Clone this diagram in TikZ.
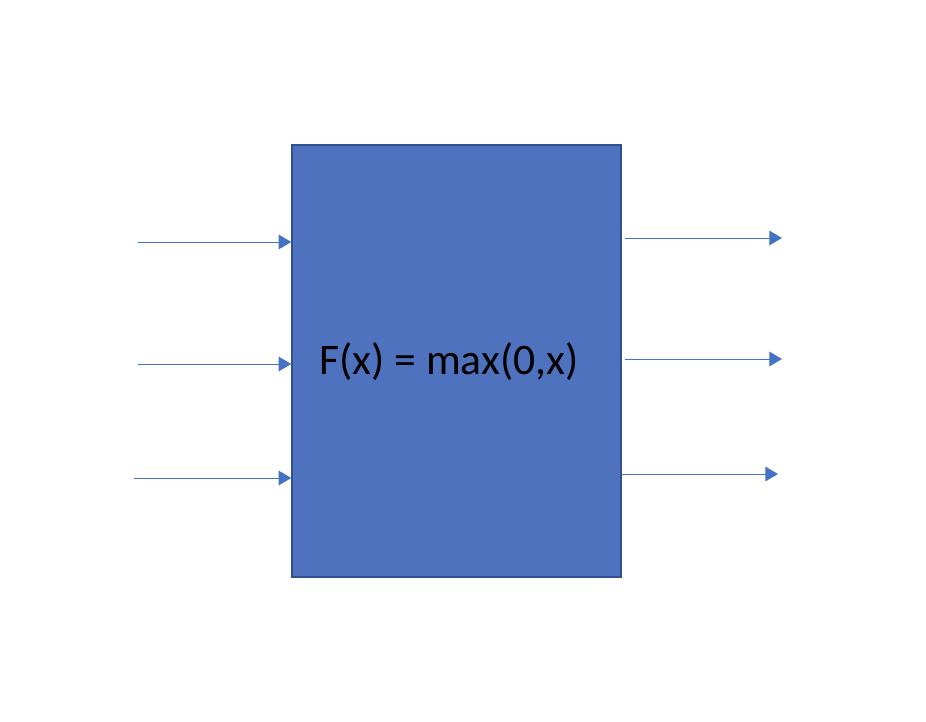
\documentclass[tikz,border=0pt]{standalone}
\usepackage{fontspec}
\setmainfont{Carlito}
\usetikzlibrary{arrows.meta, positioning, calc}
\definecolor{BoxBlue}{HTML}{4E72BE}
\definecolor{LineBlue}{HTML}{4472C4}
\definecolor{EdgeBlue}{HTML}{2F528F}

\begin{document}
\begin{tikzpicture}[
        x=0.75pt, y=-0.75pt,
        sig/.style={-{Triangle[length=9.5pt, width=11pt]}, line width=0.75pt, LineBlue},
        unit/.style={draw=EdgeBlue, fill=BoxBlue, line width=1.1pt,
                     minimum width=246.75pt, minimum height=324pt, inner sep=0pt},
        lbl/.style={font=\fontsize{32.7}{38}\selectfont, text=black},
      ]
        \useasboundingbox (0,0) rectangle (926,722);
        \node[unit] (relu) at (456.5,361) {};
        \node[lbl] (fx) at (449,362) {F(x) = max(0,x)};
        % inputs
        \foreach \i/\xa/\ya in {1/138/242, 2/138/364, 3/134/478}{
          \coordinate (in\i) at (\xa,\ya);
          \draw[sig] (in\i) -- (in\i -| relu.west);
        }
        % outputs
        \foreach \i/\xa/\xb/\ya in {1/625/782/238, 2/625/782/359, 3/621/778/474}{
          \coordinate (src\i) at (\xa,\ya);
          \coordinate (out\i) at (\xb,\ya);
          \draw[sig] (src\i) -- (out\i);
        }
      \end{tikzpicture}
\end{document}
